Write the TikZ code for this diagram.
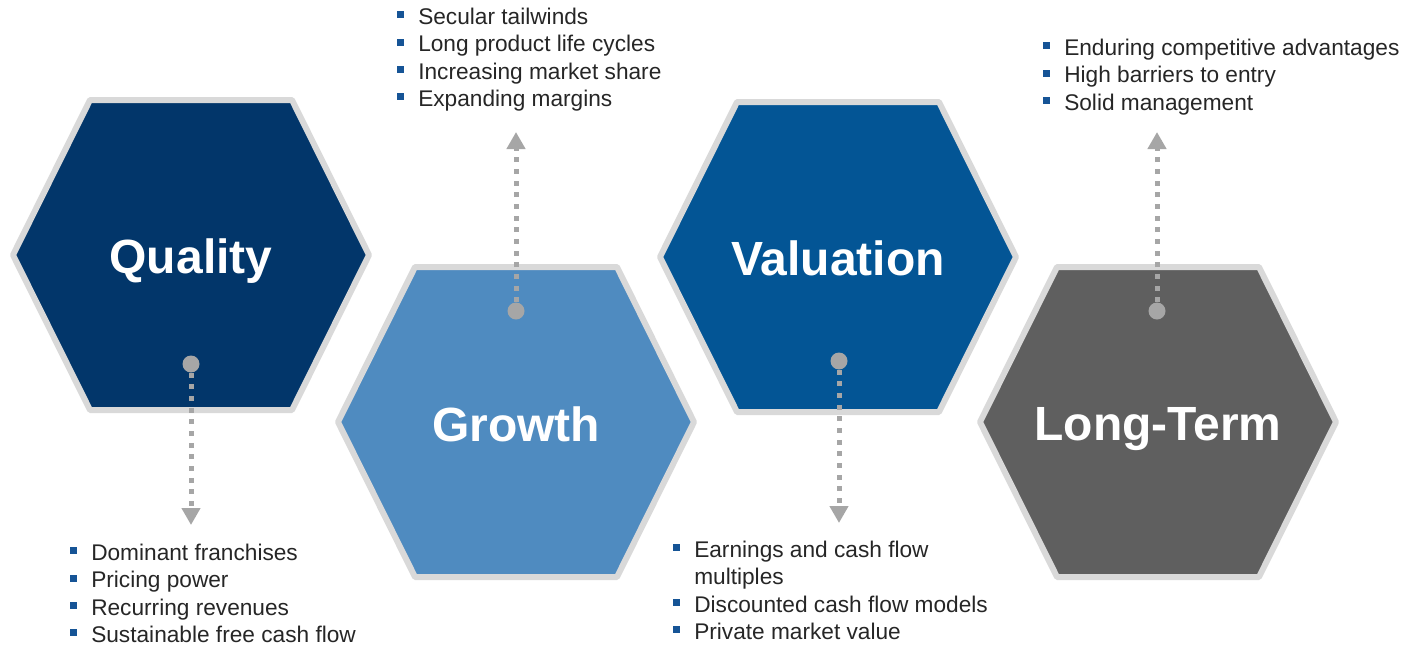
\documentclass[tikz,border=0pt]{standalone}
\usepackage{fontspec}
\setmainfont{Liberation Sans}
\usetikzlibrary{arrows.meta}

\definecolor{qualblue}{RGB}{2,54,106}
\definecolor{growblue}{RGB}{79,139,192}
\definecolor{valblue}{RGB}{3,85,149}
\definecolor{termgray}{RGB}{95,95,95}
\definecolor{rimgray}{RGB}{217,217,217}
\definecolor{dotgray}{RGB}{166,166,166}
\definecolor{bulblue}{RGB}{22,84,150}
\definecolor{txtgray}{RGB}{38,38,38}

\newcommand{\bul}{\textcolor{bulblue}{\rule[4.5pt]{5.25pt}{5.25pt}}}

\begin{document}
\begin{tikzpicture}[x=0.75pt,y=-0.75pt,
        hex/.style={draw=rimgray,line width=4.5pt,line join=round},
        title/.style={anchor=base,text=white,font=\fontsize{36}{40}\selectfont\bfseries},
        dot/.style={circle,fill=dotgray,inner sep=0pt,minimum size=12.75pt},
        link/.style={draw=dotgray,line width=3.75pt,dash pattern=on 3.75pt off 5pt,
          -{Triangle[width=13.5pt,length=12.75pt]}},
        list/.style={anchor=north west,inner sep=0pt,text=txtgray,
          font=\fontsize{17}{20.5}\selectfont}]

        \useasboundingbox (0,0) rectangle (1404,644);

        % hexagons
        \draw[hex,fill=qualblue] (191,255) ++(-178,0) -- ++(77,-155) -- ++(202,0)
          -- ++(77,155) -- ++(-77,155) -- ++(-202,0) -- cycle;
        \draw[hex,fill=growblue] (516,422) ++(-178,0) -- ++(77,-155) -- ++(202,0)
          -- ++(77,155) -- ++(-77,155) -- ++(-202,0) -- cycle;
        \draw[hex,fill=valblue] (838,257) ++(-178,0) -- ++(77,-155) -- ++(202,0)
          -- ++(77,155) -- ++(-77,155) -- ++(-202,0) -- cycle;
        \draw[hex,fill=termgray] (1158,422) ++(-178,0) -- ++(77,-155) -- ++(202,0)
          -- ++(77,155) -- ++(-77,155) -- ++(-202,0) -- cycle;

        \node[title] (q) at (191,273) {Quality};
        \node[title] (g) at (516,441) {Growth};
        \node[title] (v) at (838,275) {Valuation};
        \node[title] (l) at (1158,440) {Long-Term};

        % dots and arrows
        \node[dot] (qd) at (191,364) {};
        \node[dot] (gd) at (516,311) {};
        \node[dot] (vd) at (839,361) {};
        \node[dot] (ld) at (1157,311) {};
        \coordinate (qa) at (191,525);
        \coordinate (ga) at (516,132);
        \coordinate (va) at (839,523);
        \coordinate (la) at (1157,132);

        \path[link] (qd) -- (qa);
        \path[link] (gd) -- (ga);
        \path[link] (vd) -- (va);
        \path[link] (ld) -- (la);

        % bullet lists
        \node[list] (ql) at (70,541) {\begin{tabular}{@{}l@{\hspace{10.5pt}}l@{}}
          \bul & Dominant franchises\\
          \bul & Pricing power\\
          \bul & Recurring revenues\\
          \bul & Sustainable free cash flow
          \end{tabular}};
        \node[list] (gl) at (397,5) {\begin{tabular}{@{}l@{\hspace{10.5pt}}l@{}}
          \bul & Secular tailwinds\\
          \bul & Long product life cycles\\
          \bul & Increasing market share\\
          \bul & Expanding margins
          \end{tabular}};
        \node[list] (vl) at (673,538) {\begin{tabular}{@{}l@{\hspace{10.5pt}}l@{}}
          \bul & Earnings and cash flow\\
               & multiples\\
          \bul & Discounted cash flow models\\
          \bul & Private market value
          \end{tabular}};
        \node[list] (ll) at (1043,36) {\begin{tabular}{@{}l@{\hspace{10.5pt}}l@{}}
          \bul & Enduring competitive advantages\\
          \bul & High barriers to entry\\
          \bul & Solid management
          \end{tabular}};
      \end{tikzpicture}
\end{document}
